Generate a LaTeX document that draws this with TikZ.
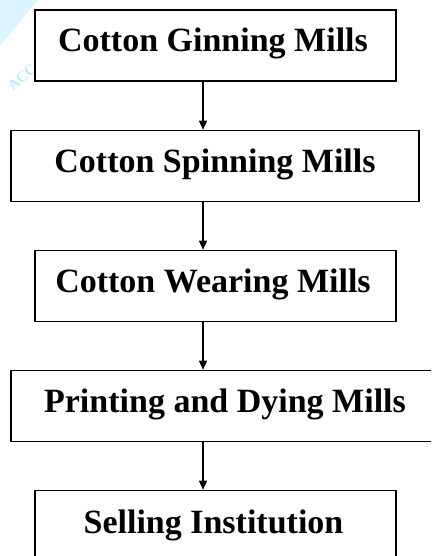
\documentclass[tikz,border=0pt]{standalone}
\usepackage{fontspec}
\setmainfont{Liberation Serif}
\usetikzlibrary{arrows.meta}
\begin{document}
\begin{tikzpicture}[x=1pt,y=-1pt,
  stagebox/.style={draw=black,line width=1.6pt,fill=white,minimum height=71pt,inner sep=0pt},
  stagetext/.style={anchor=base,font=\fontsize{34}{40}\bfseries\selectfont,inner sep=0pt},
  flowarrow/.style={line width=1.3pt,-{Triangle[width=8pt,length=9pt]}}]
\useasboundingbox (0,0) rectangle (431,556);
\clip (0,0) rectangle (431,556);
% faint watermark
\fill[blue!30!cyan!14] (0,46) -- (0,0) -- (38,0) -- cycle;
\node[rotate=42,text=blue!30!cyan!28,font=\fontsize{15}{17}\bfseries\selectfont] (wm) at (22,77) {ACC};
% boxes
\node[stagebox,minimum width=361pt] (b1) at (215.5,45.5) {};
\node[stagebox,minimum width=408pt] (b2) at (215,166) {};
\node[stagebox,minimum width=361pt] (b3) at (215.5,286) {};
\node[stagebox,minimum width=430pt] (b4) at (226,406) {};
\node[stagebox,minimum width=361pt] (b5) at (215.5,526) {};
% texts
\node[stagetext] (t1) at (213,52) {Cotton Ginning Mills};
\node[stagetext] (t2) at (215,172) {Cotton Spinning Mills};
\node[stagetext] (t3) at (213,292) {Cotton Wearing Mills};
\node[stagetext] (t4) at (225,412) {Printing and Dying Mills};
\node[stagetext] (t5) at (213.5,533) {Selling Institution};
% arrows
\coordinate (ax) at (203,0);
\draw[flowarrow] (b1.south -| ax) -- (b2.north -| ax);
\draw[flowarrow] (b2.south -| ax) -- (b3.north -| ax);
\draw[flowarrow] (b3.south -| ax) -- (b4.north -| ax);
\draw[flowarrow] (b4.south -| ax) -- (b5.north -| ax);
\end{tikzpicture}
\end{document}
